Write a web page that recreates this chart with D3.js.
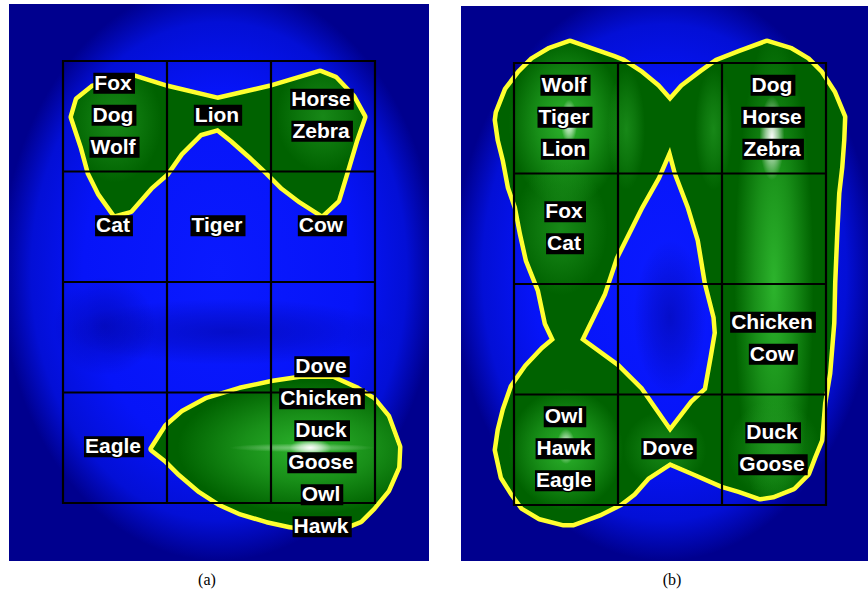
<!DOCTYPE html>
<html><head><meta charset="utf-8">
<script src="https://cdn.jsdelivr.net/npm/d3@7"></script>
<style>body{margin:0;background:#fff}svg{display:block}</style>
</head><body><svg id="c" width="868" height="593"></svg>
<script>
// ---------- DATA (grid units: column 0..3, row 0..4) ----------
const gridCols = 3, gridRows = 4;
const panelNames = ["(a)", "(b)"];

const labelsA = [
  [0, 0, ["Fox", "Dog", "Wolf"]],
  [1, 0, ["Lion"]],
  [2, 0, ["Horse", "Zebra"]],
  [0, 1, ["Cat"]],
  [1, 1, ["Tiger"]],
  [2, 1, ["Cow"]],
  [0, 3, ["Eagle"]],
  [2, 3, ["Dove", "Chicken", "Duck", "Goose", "Owl", "Hawk"]]
];
const labelsB = [
  [0, 0, ["Wolf", "Tiger", "Lion"]],
  [2, 0, ["Dog", "Horse", "Zebra"]],
  [0, 1, ["Fox", "Cat"]],
  [2, 2, ["Chicken", "Cow"]],
  [0, 3, ["Owl", "Hawk", "Eagle"]],
  [1, 3, ["Dove"]],
  [2, 3, ["Duck", "Goose"]]
];

// cluster outlines (a)
const clusterA1 = [
  [0.288,0.244],[0.692,0.154],[1.0,0.244],[1.49,0.353],[1.99,0.244],[2.279,0.163],
  [2.471,0.109],[2.615,0.163],[2.779,0.326],[2.885,0.507],[2.808,0.715],[2.731,0.959],
  [2.635,1.258],[2.49,1.385],[2.279,1.258],[2.115,1.14],[1.971,1.005],[1.798,0.851],
  [1.635,0.715],[1.49,0.606],[1.317,0.652],[1.125,0.833],[0.99,1.014],[0.837,1.14],
  [0.644,1.348],[0.5,1.385],[0.356,1.195],[0.26,1.014],[0.192,0.778],[0.096,0.507],[0.144,0.353]
];
const clusterA2 = [
  [0.865,3.511],[1.0,3.312],[1.154,3.186],[1.385,3.068],[1.702,2.977],[2.019,2.914],
  [2.279,2.878],[2.596,2.878],[2.827,2.977],[2.981,3.068],[3.115,3.222],[3.221,3.493],
  [3.212,3.674],[3.115,3.882],[2.981,4.036],[2.856,4.154],[2.712,4.208],[2.471,4.235],
  [2.183,4.199],[1.962,4.154],[1.702,4.081],[1.51,4.0],[1.317,3.882],[1.125,3.729],[1.0,3.611]
];
// cluster outline (b) with one hole
const clusterBOuter = [
  [0.538,-0.181],[0.731,-0.118],[0.952,-0.045],[1.048,-0.009],[1.212,0.09],[1.375,0.217],
  [1.5,0.35],[1.625,0.217],[1.817,0.081],[1.952,-0.009],[2.173,-0.09],[2.433,-0.181],
  [2.654,-0.118],[2.817,-0.027],[2.942,0.09],[3.067,0.271],[3.163,0.489],[3.154,0.697],
  [3.135,0.941],[3.106,1.176],[3.087,1.538],[3.067,1.991],[3.058,2.353],[3.019,2.805],
  [2.971,3.077],[2.942,3.412],[2.875,3.566],[2.817,3.71],[2.683,3.837],[2.49,3.91],
  [2.365,3.928],[2.173,3.864],[2.01,3.819],[1.721,3.701],[1.5,3.611],[1.279,3.747],
  [1.144,3.891],[1.019,3.982],[0.827,4.072],[0.567,4.163],[0.471,4.163],[0.25,4.109],
  [0.087,4.018],[-0.01,3.891],[-0.106,3.747],[-0.163,3.502],[-0.135,3.321],[-0.087,3.14],
  [-0.01,2.932],[0.125,2.751],[0.279,2.597],[0.394,2.507],[0.317,2.353],[0.25,2.054],
  [0.135,1.783],[0.077,1.538],[0.029,1.303],[-0.038,1.122],[-0.087,0.878],[-0.135,0.697],
  [-0.163,0.516],[-0.154,0.452],[-0.067,0.244],[0.058,0.09],[0.183,-0.027],[0.346,-0.118]
];
const clusterBHole = [
  [1.5,0.76],[1.567,0.995],[1.692,1.303],[1.788,1.602],[1.856,1.991],[1.94,2.3],[1.952,2.443],
  [1.913,2.661],[1.856,2.959],[1.721,3.077],[1.5,3.348],[1.212,2.959],[0.99,2.751],
  [0.635,2.507],[0.856,2.081],[0.971,1.756],[1.087,1.538],[1.212,1.303],[1.375,1.032]
];

// shading peaks inside clusters: [col, row, radiusCol, radiusRow, kind]
const peaksA = [
  [0.5,0.55,0.45,0.55,"soft"],[2.5,0.5,0.45,0.5,"soft"],
  [2.35,3.5,1.25,0.6,"green"],[2.3,3.5,0.7,0.04,"streak"],[2.38,3.5,0.2,0.08,"white"]
];
const peaksB = [
  [0.5,0.55,0.55,0.75,"green"],[0.53,0.53,0.08,0.2,"white"],
  [2.5,2.0,0.38,2.3,"green"],[2.48,0.68,0.12,0.38,"white"],
  [0.45,1.5,0.45,0.6,"soft"],[0.5,3.5,0.55,0.55,"green"],[0.5,3.47,0.09,0.16,"white"],
  [1.45,3.5,0.4,0.35,"soft"],[2.5,3.5,0.45,0.45,"soft"],
  [1.08,0.6,0.18,0.55,"soft"],[1.92,0.6,0.18,0.55,"soft"]
];
// darker valleys of the background map
const valleysA = [[1.6,2.45,1.6,0.3],[0.4,2.4,0.5,0.45]];
const valleysB = [[1.5,2.3,0.35,0.7]];

// ---------- DRAW ----------
const svg = d3.select("#c");
const defs = svg.append("defs");

const bg = defs.append("radialGradient").attr("id","bgGrad").attr("cx","50%").attr("cy","48%").attr("r","52%");
[[0,"#0a1aff"],[0.62,"#0614f8"],[0.86,"#030fd6"],[1,"#00008e"]].forEach(s=>bg.append("stop").attr("offset",s[0]).attr("stop-color",s[1]));

function radial(id, color, a0){
  const g = defs.append("radialGradient").attr("id",id);
  g.append("stop").attr("offset",0).attr("stop-color",color).attr("stop-opacity",a0);
  g.append("stop").attr("offset",0.5).attr("stop-color",color).attr("stop-opacity",a0*0.55);
  g.append("stop").attr("offset",1).attr("stop-color",color).attr("stop-opacity",0);
}
radial("pk-green","#2fb82f",0.95);
radial("pk-soft","#27a127",0.6);
radial("pk-white","#ffffff",1);
radial("pk-streak","#d8f0d8",0.5);
radial("valley","#00008a",0.45);

const panels = [
  {frame:[9,4,429,561], grid:[63,61,375,503], labels:labelsA, rings:[[clusterA1],[clusterA2]], peaks:peaksA, valleys:valleysA, cap:207},
  {frame:[461,6,868,561], grid:[514,63,826,505], labels:labelsB, rings:[[clusterBOuter, clusterBHole]], peaks:peaksB, valleys:valleysB, cap:672}
];

panels.forEach((p, pi) => {
  const x = d3.scaleLinear().domain([0, gridCols]).range([p.grid[0], p.grid[2]]);
  const y = d3.scaleLinear().domain([0, gridRows]).range([p.grid[1], p.grid[3]]);
  const line = d3.line().x(d => x(d[0])).y(d => y(d[1])).curve(d3.curveLinearClosed);
  const g = svg.append("g");

  const fid = "fclip" + pi;
  defs.append("clipPath").attr("id", fid).append("rect")
    .attr("x", p.frame[0]).attr("y", p.frame[1]).attr("width", p.frame[2]-p.frame[0]).attr("height", p.frame[3]-p.frame[1]);
  const fg = g.append("g").attr("clip-path", `url(#${fid})`);

  fg.append("rect").attr("x", p.frame[0]).attr("y", p.frame[1])
    .attr("width", p.frame[2]-p.frame[0]).attr("height", p.frame[3]-p.frame[1])
    .attr("fill", "url(#bgGrad)");
  fg.selectAll("ellipse.valley").data(p.valleys).join("ellipse").attr("class","valley")
    .attr("cx", d => x(d[0])).attr("cy", d => y(d[1]))
    .attr("rx", d => x(d[2]) - x(0)).attr("ry", d => y(d[3]) - y(0))
    .attr("fill", "url(#valley)");

  p.rings.forEach((rings, bi) => {
    const dStr = rings.map(r => line(r)).join(" ");
    fg.append("path").attr("d", dStr).attr("fill", "none")
      .attr("stroke", "#ffff30").attr("stroke-width", 9).attr("stroke-linejoin", "round");
    const cid = `blob${pi}_${bi}`;
    defs.append("clipPath").attr("id", cid).append("path").attr("d", dStr).attr("clip-rule", "evenodd");
    const bgp = fg.append("g").attr("clip-path", `url(#${cid})`);
    bgp.append("rect").attr("x", p.frame[0]).attr("y", p.frame[1])
      .attr("width", p.frame[2]-p.frame[0]).attr("height", p.frame[3]-p.frame[1])
      .attr("fill", "#006200");
    bgp.selectAll("ellipse").data(p.peaks).join("ellipse")
      .attr("cx", d => x(d[0])).attr("cy", d => y(d[1]))
      .attr("rx", d => x(d[2]) - x(0)).attr("ry", d => y(d[3]) - y(0))
      .attr("fill", d => `url(#pk-${d[4]})`);
  });

  // grid
  g.selectAll("line.v").data(d3.range(gridCols + 1)).join("line").attr("class","v")
    .attr("x1", d => x(d)).attr("x2", d => x(d)).attr("y1", y(0) - 1).attr("y2", y(gridRows) + 1)
    .attr("stroke", "#000").attr("stroke-width", 2.2);
  g.selectAll("line.h").data(d3.range(gridRows + 1)).join("line").attr("class","h")
    .attr("y1", d => y(d)).attr("y2", d => y(d)).attr("x1", x(0) - 1).attr("x2", x(gridCols) + 1)
    .attr("stroke", "#000").attr("stroke-width", 2.2);

  // labels
  const spacing = 32;
  p.labels.forEach(([c, r, names]) => {
    const cx = x(c + 0.5) - 2, cy = y(r + 0.5) - 2;
    names.forEach((nm, i) => {
      const ty = cy + (i - (names.length - 1) / 2) * spacing;
      const lg = g.append("g");
      const t = lg.append("text").attr("x", cx).attr("y", ty).attr("text-anchor", "middle")
        .attr("dominant-baseline", "central")
        .attr("font-family", "Liberation Sans, Arial, sans-serif").attr("font-weight", "bold")
        .attr("font-size", 21).attr("fill", "#fff")
        .attr("stroke", "#000").attr("stroke-width", 2.5).attr("paint-order", "stroke")
        .text(nm);
      const bb = t.node().getBBox();
      lg.insert("rect", "text").attr("x", bb.x - 1).attr("y", bb.y + 2)
        .attr("width", bb.width + 4).attr("height", bb.height - 2).attr("fill", "#000");
    });
  });

  // caption
  svg.append("text").attr("x", p.cap).attr("y", 585).attr("text-anchor", "middle")
    .attr("font-family", "Liberation Serif, Times New Roman, serif").attr("font-size", 16)
    .attr("fill", "#000").text(panelNames[pi]);
});
</script></body></html>
